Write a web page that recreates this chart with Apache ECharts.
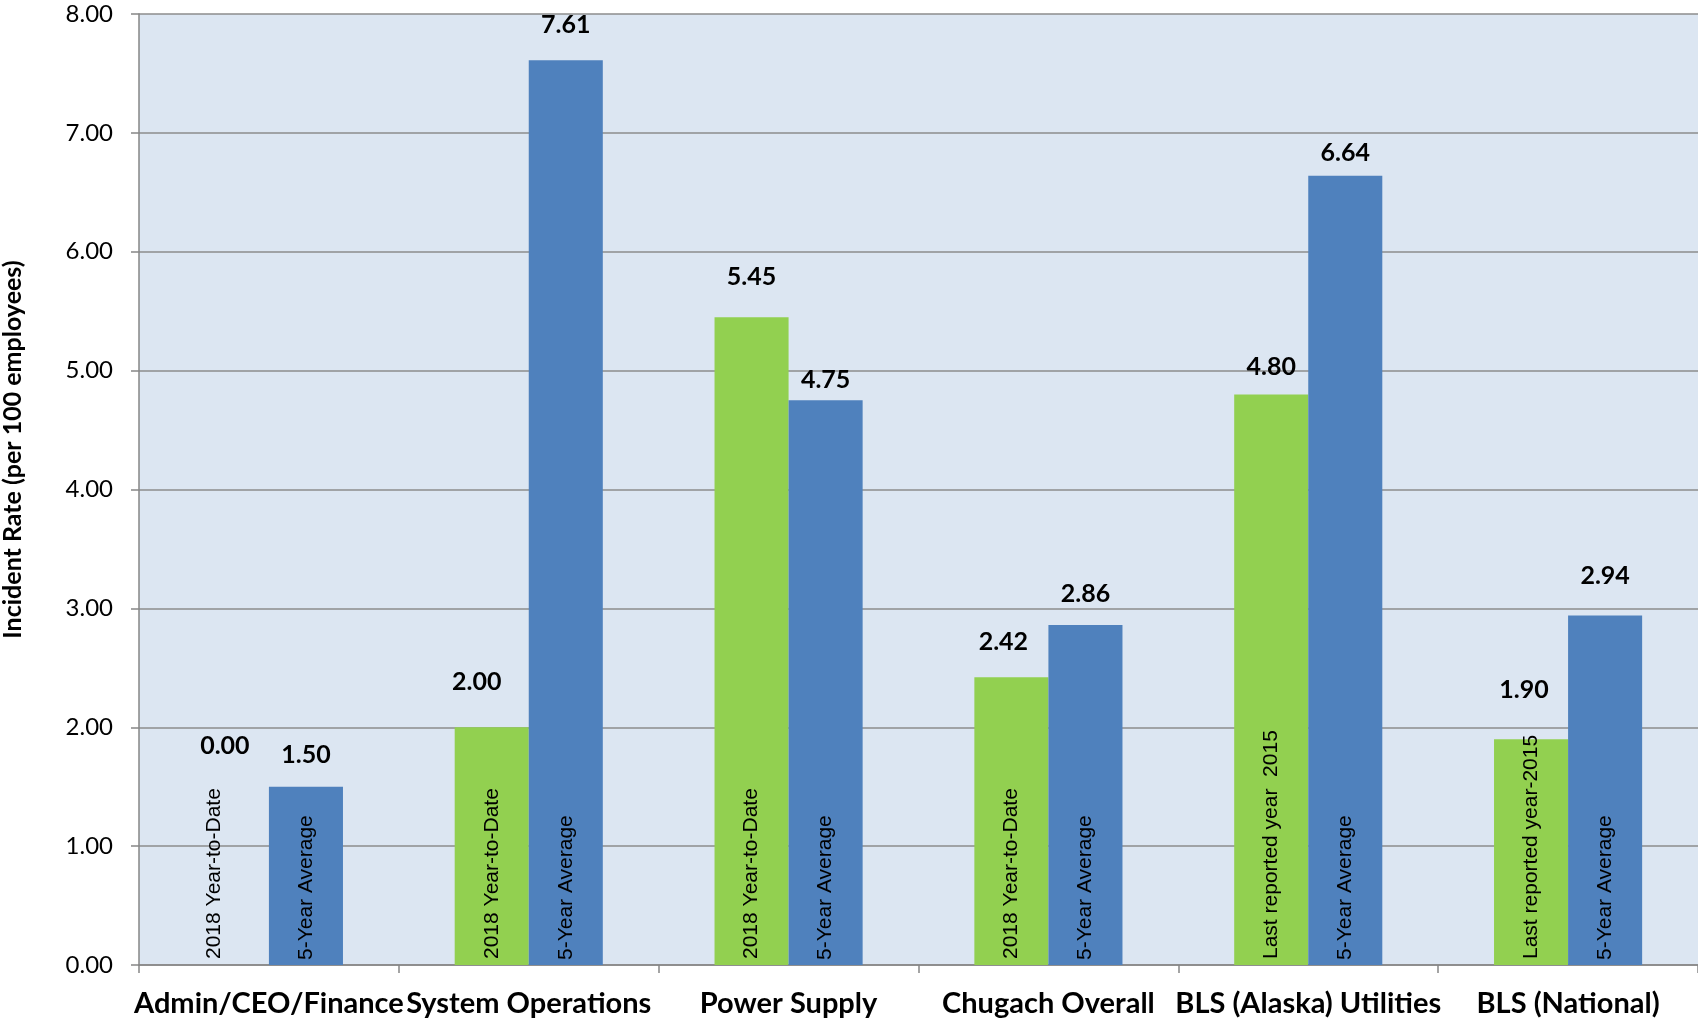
<!DOCTYPE html>
<html>
<head>
<meta charset="utf-8">
<script src="https://cdn.jsdelivr.net/npm/echarts@6/dist/echarts.min.js"></script>
<style>
  html, body { margin: 0; padding: 0; background: #ffffff; }
  #chart { width: 1698px; height: 1024px; }
</style>
</head>
<body>
<div id="chart"></div>
<script>
// Incident rates per 100 employees, by group
const categories = [
  'Admin/CEO/Finance',
  'System Operations',
  'Power Supply',
  'Chugach Overall',
  'BLS (Alaska) Utilities',
  'BLS (National)'
];
const currentRates = [0.00, 2.00, 5.45, 2.42, 4.80, 1.90];
const fiveYearAverages = [1.50, 7.61, 4.75, 2.86, 6.64, 2.94];
const currentCaptions = [
  '2018 Year-to-Date',
  '2018 Year-to-Date',
  '2018 Year-to-Date',
  '2018 Year-to-Date',
  'Last reported year  2015',
  'Last reported year-2015'
];
const averageCaption = '5-Year Average';
const yMin = 0;
const yMax = 8;
const yStep = 1;

// Hand-tuned placement of the value labels: [horizontal shift, distance above bar]
const currentLabelPlacement = [[-7, 207], [-15, 33], [0, 28], [-8, 23], [0, 15], [-7, 37]];
const averageLabelPlacement = [[0, 19], [0, 23], [0, 8], [0, 19], [0, 10], [0, 27]];

const GREEN = '#92D050';
const BLUE = '#4F81BD';
const CATEGORY_GAP = 0.43;               // share of each band left empty
const BAR_SHARE = (1 - CATEGORY_GAP) / 2; // width of one bar as share of band

function barData(values, placement) {
  return values.map((v, i) => ({
    value: v,
    label: { offset: [placement[i][0], 0], distance: placement[i][1] }
  }));
}

const valueLabel = {
  show: true,
  position: 'top',
  formatter: p => Number(p.value).toFixed(2),
  fontFamily: 'Lato',
  fontWeight: 'bold',
  fontSize: 25,
  color: '#000000'
};

const chart = echarts.init(document.getElementById('chart'), null, { renderer: 'canvas' });

chart.setOption({
  animation: false,
  backgroundColor: '#ffffff',
  grid: {
    left: 139,
    right: 0,
    top: 14,
    bottom: 59,
    containLabel: false,
    outerBoundsMode: 'none',
    show: true,
    backgroundColor: '#DCE6F2',
    borderWidth: 0
  },
  xAxis: {
    type: 'category',
    data: categories,
    axisLine: { show: true, lineStyle: { color: '#868686', width: 1.5 } },
    axisTick: { show: true, alignWithLabel: false, length: 8, lineStyle: { color: '#868686', width: 1.5 } },
    axisLabel: {
      interval: 0,
      margin: 24,
      fontFamily: 'Lato',
      fontWeight: 'bold',
      fontSize: 29,
      color: '#000000'
    },
    splitLine: { show: false }
  },
  yAxis: {
    type: 'value',
    min: yMin,
    max: yMax,
    interval: yStep,
    name: 'Incident Rate (per 100 employees)',
    nameLocation: 'middle',
    nameGap: 114,
    nameTextStyle: {
      fontFamily: 'Lato',
      fontWeight: 'bold',
      fontSize: 25,
      color: '#000000',
      padding: [0, 0, 0, 80]
    },
    axisLine: { show: true, lineStyle: { color: '#868686', width: 1.5 } },
    axisTick: { show: true, inside: false, length: 8, lineStyle: { color: '#868686', width: 1.5 } },
    axisLabel: {
      margin: 26,
      formatter: v => v.toFixed(2),
      fontFamily: 'Lato',
      fontSize: 24,
      color: '#000000'
    },
    splitLine: { show: true, lineStyle: { color: '#8c8c8c', width: 1.5 } }
  },
  series: [
    {
      name: 'Current',
      type: 'bar',
      barGap: '0%',
      barCategoryGap: (CATEGORY_GAP * 100) + '%',
      itemStyle: { color: GREEN },
      label: valueLabel,
      data: barData(currentRates, currentLabelPlacement)
    },
    {
      name: '5-Year Average',
      type: 'bar',
      barGap: '0%',
      barCategoryGap: (CATEGORY_GAP * 100) + '%',
      itemStyle: { color: BLUE },
      label: valueLabel,
      data: barData(fiveYearAverages, averageLabelPlacement)
    },
    {
      // vertical captions written inside each pair of bars
      name: 'captions',
      type: 'custom',
      silent: true,
      z: 4,
      data: categories.map((c, i) => [i, 0]),
      encode: { x: 0, y: 1 },
      renderItem(params, api) {
        const i = api.value(0);
        const base = api.coord([i, 0]);
        const band = api.size([1, 0])[0];
        const w = band * BAR_SHARE;
        // an empty bar leaves its caption a little left of centre
        const shift = currentRates[i] === 0 ? -18 : 0;
        const items = [
          [currentCaptions[i], -w / 2 + shift, 6],
          [averageCaption, w / 2, 5]
        ];
        return {
          type: 'group',
          children: items.map(([text, dx, lift]) => ({
            type: 'text',
            x: base[0] + dx,
            y: base[1] - lift,
            rotation: Math.PI / 2,
            style: {
              text: text,
              fontFamily: '"Liberation Sans", Arial, sans-serif',
              fontSize: 21,
              fill: '#000000',
              align: 'left',
              verticalAlign: 'middle'
            }
          }))
        };
      }
    }
  ]
});
</script>
</body>
</html>
